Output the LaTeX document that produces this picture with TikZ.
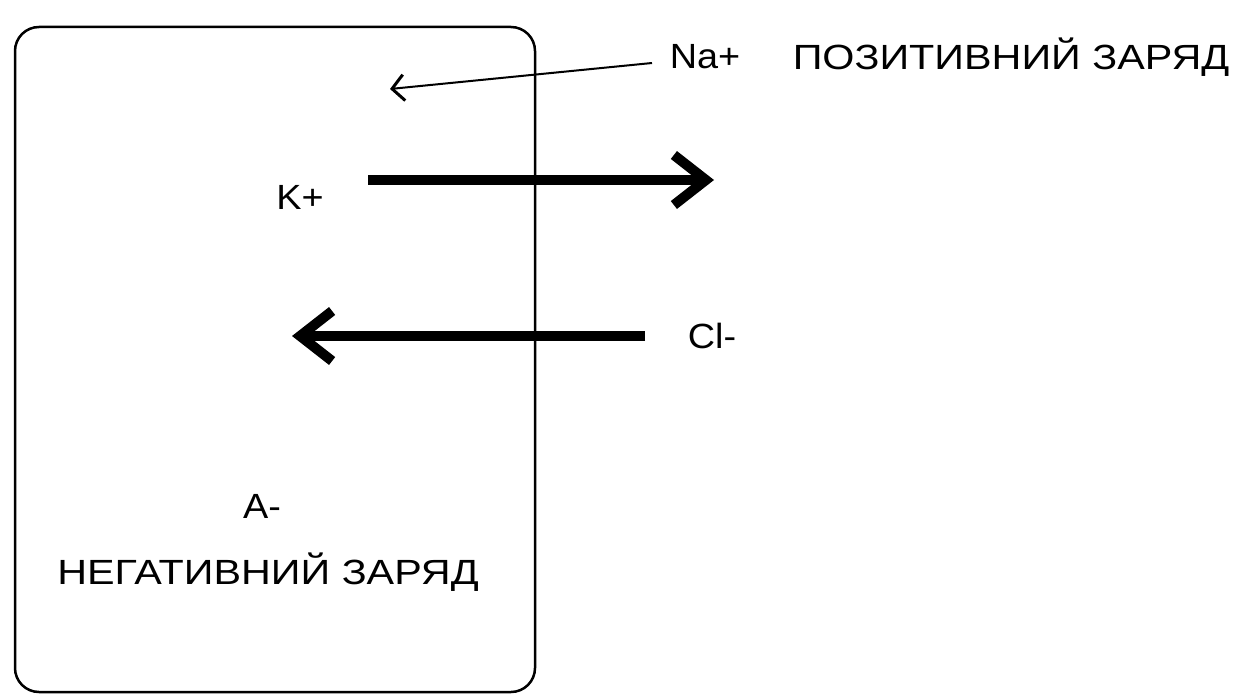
\documentclass[tikz,border=0pt]{standalone}
\usepackage{fontspec}
\setmainfont{Liberation Sans}
\usetikzlibrary{arrows.meta}
\begin{document}
\begin{tikzpicture}[x=1pt,y=-1pt,
  ion/.style={inner sep=0pt,font=\fontsize{35}{40}\selectfont,xscale=1.08},
  lbl/.style={inner sep=0pt,font=\fontsize{35}{40}\selectfont,xscale=1.18},
  thick arrow/.style={line width=10pt,-{Straight Barb[length=32pt,width=50pt,line width=10pt]}},
  thin arrow/.style={line width=2pt,-{Straight Barb[length=12pt,width=26pt,line width=3pt]}}]
\useasboundingbox (0,0) rectangle (1241,695);
\draw[line width=2.5pt,rounded corners=24pt] (15,27) rectangle (535,692);
\node[ion] (na) at (705,57) {Na+};
\node[ion] (k) at (300,197) {K+};
\node[ion] (cl) at (712,336) {Cl-};
\node[ion] (a) at (262,506) {A-};
\node[lbl] (neg) at (268,572) {НЕГАТИВНИЙ ЗАРЯД};
\node[lbl] (pos) at (1011,57) {ПОЗИТИВНИЙ ЗАРЯД};
\coordinate (nastart) at (652,63);
\coordinate (naend) at (390,89);
\coordinate (kstart) at (368,180);
\coordinate (kend) at (714,180);
\coordinate (clstart) at (645,336);
\coordinate (clend) at (292,336);
\draw[thin arrow] (nastart) -- (naend);
\draw[thick arrow] (kstart) -- (kend);
\draw[thick arrow] (clstart) -- (clend);
\end{tikzpicture}
\end{document}
